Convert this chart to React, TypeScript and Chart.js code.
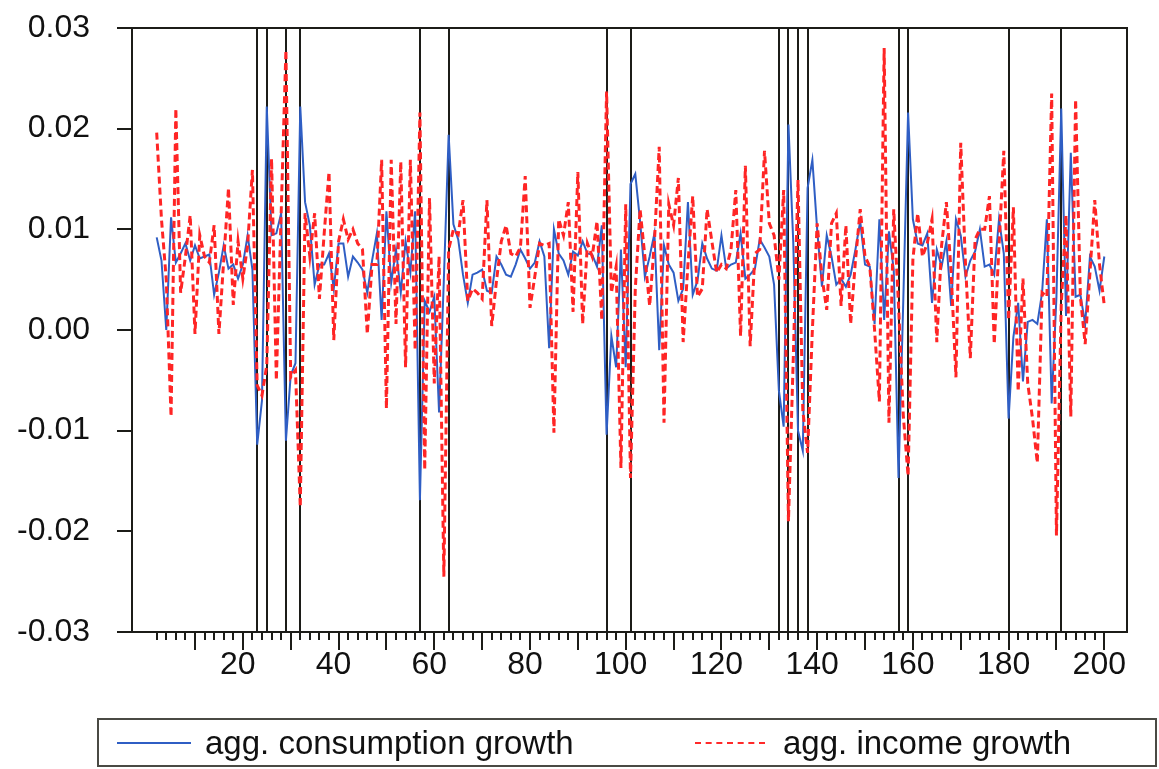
import React, { useEffect, useRef } from 'react';
import { Chart, registerables } from 'chart.js';

Chart.register(...registerables);

// Observation number of the first growth rate in each series.
const FIRST_OBS = 2;

// Aggregate consumption growth, observations 2..200.
const consumptionGrowth = [
  0.0092, 0.0069, 0.0000, 0.0112, 0.0067, 0.0076, 0.0086, 0.0069, 0.0084,
  0.0071, 0.0073, 0.0075, 0.0035, 0.0057, 0.0084, 0.0061, 0.0065, 0.0051, 0.0065,
  0.0094, 0.0060, -0.0114, -0.0070, 0.0222, 0.0094, 0.0096, 0.0116, -0.0110, -0.0045,
  -0.0033, 0.0222, 0.0127, 0.0104, 0.0045, 0.0065, 0.0065, 0.0076, 0.0041, 0.0086,
  0.0086, 0.0053, 0.0073, 0.0067, 0.0060, 0.0037, 0.0069, 0.0096, 0.0010, 0.0118,
  0.0047, 0.0080, 0.0037, 0.0088, 0.0057, 0.0118, -0.0169, 0.0029, 0.0018, 0.0033,
  -0.0082, 0.0050, 0.0194, 0.0105, 0.0090, 0.0055, 0.0027, 0.0055, 0.0057, 0.0060,
  0.0039, 0.0037, 0.0073, 0.0065, 0.0055, 0.0053, 0.0065, 0.0080, 0.0071, 0.0061,
  0.0067, 0.0088, 0.0073, -0.0018, 0.0100, 0.0076, 0.0069, 0.0055, 0.0078, 0.0074,
  0.0088, 0.0076, 0.0075, 0.0063, 0.0104, -0.0104, -0.0006, -0.0037, 0.0080, -0.0037,
  0.0145, 0.0155, 0.0108, 0.0053, 0.0073, 0.0096, -0.0020, 0.0084, 0.0065, 0.0057,
  0.0029, 0.0041, 0.0127, 0.0035, 0.0049, 0.0086, 0.0071, 0.0061, 0.0059, 0.0094,
  0.0061, 0.0065, 0.0067, 0.0096, 0.0051, 0.0055, 0.0061, 0.0090, 0.0082, 0.0073,
  0.0045, -0.0060, -0.0096, 0.0204, 0.0088, -0.0100, -0.0120, 0.0141, 0.0169, 0.0100,
  0.0043, 0.0094, 0.0073, 0.0045, 0.0051, 0.0043, 0.0055, 0.0080, 0.0108, 0.0065,
  0.0063, 0.0006, 0.0110, 0.0010, 0.0098, 0.0060, -0.0147, 0.0030, 0.0216, 0.0110,
  0.0086, 0.0084, 0.0096, 0.0027, 0.0080, 0.0063, 0.0088, 0.0024, 0.0110, 0.0094,
  0.0053, 0.0069, 0.0078, 0.0100, 0.0063, 0.0065, 0.0055, 0.0110, 0.0076, -0.0088,
  -0.0007, 0.0027, -0.0051, 0.0008, 0.0010, 0.0006, 0.0037, 0.0110, -0.0073, 0.0033,
  0.0220, 0.0014, 0.0176, 0.0033, 0.0035, 0.0006, 0.0073, 0.0063, 0.0039, 0.0073,
];

// Aggregate income growth, observations 2..200.
const incomeGrowth = [
  0.0196, 0.0110, 0.0050, -0.0086, 0.0220, 0.0037, 0.0073, 0.0114, -0.0004,
  0.0094, 0.0073, 0.0067, 0.0104, -0.0004, 0.0069, 0.0141, 0.0025, 0.0088, 0.0051,
  0.0084, 0.0159, -0.0055, -0.0065, -0.0035, 0.0170, -0.0050, 0.0115, 0.0278, -0.0047,
  -0.0040, -0.0176, 0.0116, 0.0073, 0.0116, 0.0031, 0.0096, 0.0157, -0.0010, 0.0088,
  0.0110, 0.0090, 0.0100, 0.0086, 0.0080, -0.0004, 0.0065, 0.0065, 0.0169, -0.0078,
  0.0169, 0.0006, 0.0167, -0.0037, 0.0169, -0.0020, 0.0216, -0.0139, 0.0131, -0.0053,
  0.0073, -0.0245, 0.0080, 0.0100, 0.0095, 0.0129, 0.0029, 0.0041, 0.0037, 0.0031,
  0.0129, 0.0004, 0.0049, 0.0088, 0.0104, 0.0076, 0.0073, 0.0082, 0.0153, 0.0022,
  0.0053, 0.0086, 0.0084, 0.0086, -0.0102, 0.0110, 0.0094, 0.0127, 0.0018, 0.0157,
  0.0006, 0.0086, 0.0073, 0.0108, 0.0010, 0.0237, 0.0037, 0.0063, -0.0137, 0.0125,
  -0.0147, 0.0041, 0.0120, 0.0073, 0.0024, 0.0088, 0.0182, -0.0092, 0.0125, 0.0104,
  0.0151, -0.0012, 0.0065, 0.0133, 0.0033, 0.0041, 0.0120, 0.0088, 0.0057, 0.0065,
  0.0061, 0.0080, 0.0139, -0.0006, 0.0163, -0.0016, 0.0076, 0.0080, 0.0178, 0.0106,
  0.0094, 0.0050, 0.0139, -0.0190, -0.0030, 0.0149, -0.0080, -0.0122, 0.0000, 0.0106,
  0.0053, 0.0020, 0.0106, 0.0116, 0.0024, 0.0104, 0.0006, 0.0069, 0.0120, 0.0073,
  0.0063, 0.0000, -0.0071, 0.0280, -0.0092, 0.0120, 0.0025, -0.0085, -0.0145, 0.0070,
  0.0116, 0.0073, 0.0086, 0.0110, -0.0012, 0.0084, 0.0127, 0.0057, -0.0047, 0.0186,
  0.0065, -0.0028, 0.0090, 0.0100, 0.0100, 0.0133, -0.0014, 0.0084, 0.0178, 0.0010,
  0.0122, -0.0061, 0.0051, -0.0053, -0.0088, -0.0132, 0.0037, 0.0033, 0.0235, -0.0204,
  0.0025, 0.0114, -0.0086, 0.0229, 0.0033, -0.0014, 0.0057, 0.0129, 0.0065, 0.0024,
];

// Observations flagged with a vertical rule.
const markedObs = [23, 25, 29, 32, 57, 63, 96, 101, 132, 134, 136, 138, 157, 159, 180, 191];

// Labelled x ticks and the y tick values.
const xTickLabels = [20, 40, 60, 80, 100, 120, 140, 160, 180, 200];
const yTickValues = [-0.03, -0.02, -0.01, 0, 0.01, 0.02, 0.03];

// Minor x ticks every 2 observations, long ones every 10.
const X_MINOR_FROM = 2;
const X_MINOR_TO = 200;

const LEGEND_ITEMS = [
  { label: 'agg. consumption growth', color: '#2f5ec4', dashed: false },
  { label: 'agg. income growth', color: '#ff2a2a', dashed: true },
];

const FONT = '"Liberation Sans", Arial, Helvetica, sans-serif';
const INK = '#1c1c18';

const toPoints = (values: number[]) =>
  values.map((v, i) => ({ x: FIRST_OBS + i, y: v }));

const axesPlugin = {
  id: 'axesAndMarks',
  beforeDatasetsDraw(chart: any) {
    const { ctx, chartArea: a, scales } = chart;
    ctx.save();
    ctx.strokeStyle = INK;
    ctx.lineWidth = 2;
    markedObs.forEach((o) => {
      const px = Math.round(scales.x.getPixelForValue(o));
      ctx.beginPath();
      ctx.moveTo(px, a.top);
      ctx.lineTo(px, a.bottom);
      ctx.stroke();
    });
    ctx.restore();
  },
  afterDraw(chart: any) {
    const { ctx, chartArea: a, scales } = chart;
    ctx.save();
    ctx.strokeStyle = INK;
    ctx.lineWidth = 2;
    ctx.strokeRect(a.left, a.top, a.right - a.left, a.bottom - a.top);
    for (let o = X_MINOR_FROM; o <= X_MINOR_TO; o += 2) {
      const px = Math.round(scales.x.getPixelForValue(o));
      const len = o % 10 === 0 ? 18 : 8;
      ctx.beginPath();
      ctx.moveTo(px, a.bottom);
      ctx.lineTo(px, a.bottom + len);
      ctx.stroke();
    }
    ctx.restore();
  },
};

export default function App() {
  const canvasRef = useRef<HTMLCanvasElement | null>(null);

  useEffect(() => {
    const canvas = canvasRef.current;
    if (!canvas) return;
    const chart = new Chart(canvas, {
      type: 'line',
      data: {
        datasets: [
          {
            label: 'agg. consumption growth',
            data: toPoints(consumptionGrowth),
            borderColor: '#2f5ec4',
            borderWidth: 2,
            pointRadius: 0,
            tension: 0,
            order: 1,
          },
          {
            label: 'agg. income growth',
            data: toPoints(incomeGrowth),
            borderColor: '#ff2525',
            borderWidth: 3,
            borderDash: [7, 4],
            pointRadius: 0,
            tension: 0,
            order: 0,
          },
        ],
      },
      options: {
        responsive: false,
        animation: false,
        devicePixelRatio: 1,
        layout: { padding: { left: 0, top: 28, right: 32, bottom: 0 } },
        plugins: { legend: { display: false }, tooltip: { enabled: false } },
        scales: {
          x: {
            type: 'linear',
            min: -3.16,
            max: 204.74,
            grid: { display: false, drawTicks: false },
            border: { display: false },
            afterBuildTicks: (scale: any) => {
              scale.ticks = xTickLabels.map((v) => ({ value: v }));
            },
            afterFit: (scale: any) => {
              scale.height = 137;
            },
            ticks: {
              autoSkip: false,
              maxRotation: 0,
              padding: 14,
              labelOffset: -5,
              color: '#111',
              font: { family: FONT, size: 32 },
              callback: (v: any) => String(v),
            },
          },
          y: {
            type: 'linear',
            min: -0.03,
            max: 0.03,
            grid: {
              drawOnChartArea: false,
              drawTicks: true,
              tickLength: 15,
              color: INK,
              lineWidth: 2,
            },
            border: { display: false },
            afterBuildTicks: (scale: any) => {
              scale.ticks = yTickValues.map((v) => ({ value: v }));
            },
            afterFit: (scale: any) => {
              scale.width = 132;
              scale.paddingTop = 0;
              scale.paddingBottom = 0;
            },
            ticks: {
              padding: 27,
              color: '#111',
              font: { family: FONT, size: 32 },
              callback: (v: any) => Number(v).toFixed(2),
            },
          },
        },
      },
      plugins: [axesPlugin],
    });
    return () => chart.destroy();
  }, []);

  return (
    <div
      style={{
        position: 'fixed',
        left: 0,
        top: 0,
        width: 1159,
        height: 769,
        background: '#fff',
        overflow: 'hidden',
      }}
    >
      <canvas ref={canvasRef} width={1159} height={769} style={{ display: 'block' }} />
      <div
        style={{
          position: 'absolute',
          left: 97,
          top: 718,
          width: 1060,
          height: 49,
          boxSizing: 'border-box',
          border: '2px solid #4a4a44',
          fontFamily: FONT,
          fontSize: 33,
          color: '#111',
        }}
      >
        {LEGEND_ITEMS.map((item, i) => (
          <div
            key={item.label}
            style={{
              position: 'absolute',
              left: i === 0 ? 18 : 596,
              top: 0,
              height: 45,
              display: 'flex',
              alignItems: 'center',
              whiteSpace: 'nowrap',
            }}
          >
            <span
              style={{
                display: 'inline-block',
                width: i === 0 ? 74 : 70,
                height: 0,
                borderTop: `2px ${item.dashed ? 'dashed' : 'solid'} ${item.color}`,
                marginRight: i === 0 ? 14 : 18,
              }}
            />
            <span style={{ lineHeight: '45px' }}>{item.label}</span>
          </div>
        ))}
      </div>
    </div>
  );
}
